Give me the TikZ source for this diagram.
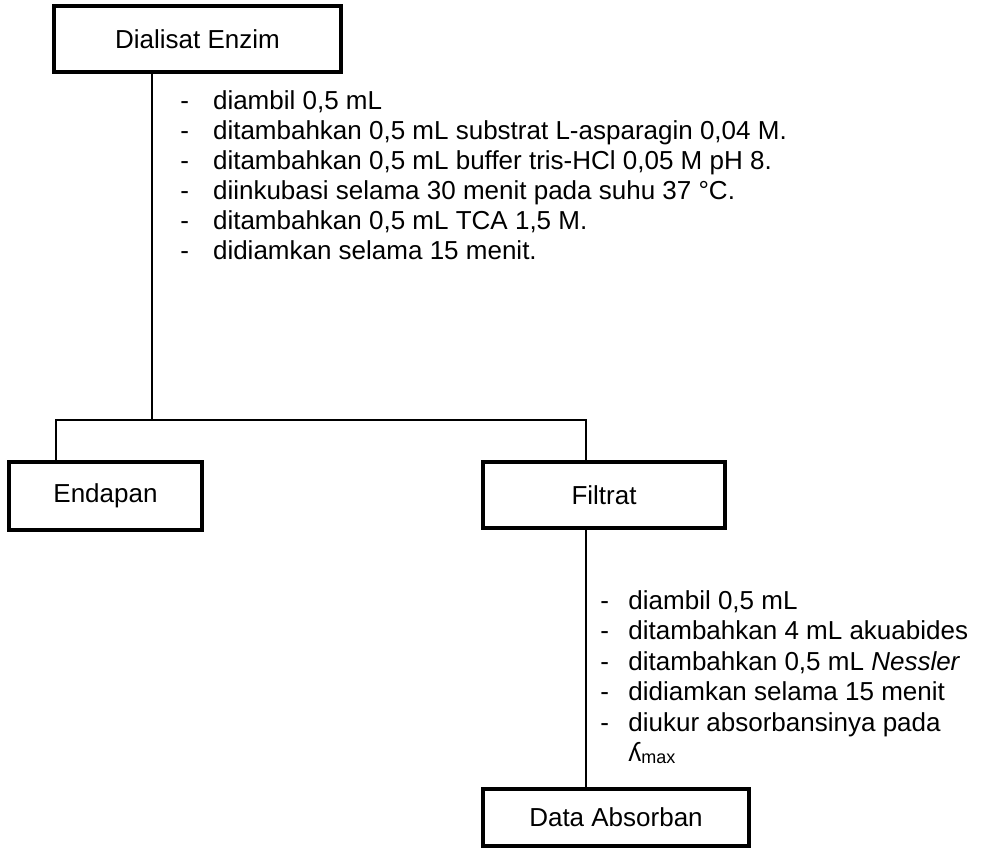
\documentclass[tikz,border=0pt]{standalone}
\usepackage{fontspec}
\setmainfont{Liberation Sans}
\tikzset{
  kotak/.style={rectangle,draw=black,line width=2.2pt,inner sep=0pt,font=\fontsize{13}{15}\selectfont},
  langkah/.style={inner sep=0pt,anchor=base west,font=\fontsize{13}{15}\selectfont},
  garis/.style={draw=black,line width=1.1pt}
}

\begin{document}
\begin{tikzpicture}[x=0.5pt,y=-0.5pt]
  \useasboundingbox (0,0) rectangle (984,848);

  \node[kotak,minimum width=143.5pt,minimum height=33pt] (dialisat) at (197.5,39) {Dialisat Enzim};
  \node[kotak,minimum width=96.5pt,minimum height=34pt] (endapan) at (105.5,496) {Endapan};
  \node[kotak,minimum width=121pt,minimum height=33pt] (filtrat) at (604,495) {Filtrat};
  \node[kotak,minimum width=133pt,minimum height=28.5pt] (absorban) at (616,817.5) {Data Absorban};

  % langkah setelah dialisat
  \node[langkah] (langkah1) at (180,109) {%
    \begin{tabular}[t]{@{}l@{\hspace{12pt}}l@{}}
      - & diambil 0,5 mL\\
      - & ditambahkan 0,5 mL substrat L-asparagin 0,04 M.\\
      - & ditambahkan 0,5 mL buffer tris-HCl 0,05 M pH 8.\\
      - & diinkubasi selama 30 menit pada suhu 37 °C.\\
      - & ditambahkan 0,5 mL TCA 1,5 M.\\
      - & didiamkan selama 15 menit.
    \end{tabular}};

  % langkah setelah filtrat
  \node[langkah,font=\fontsize{13}{15.25}\selectfont] (langkah2) at (600,609) {%
    \begin{tabular}[t]{@{}l@{\hspace{9.7pt}}l@{}}
      - & diambil 0,5 mL\\
      - & ditambahkan 4 mL akuabides\\
      - & ditambahkan 0,5 mL \textit{Nessler}\\
      - & didiamkan selama 15 menit\\
      - & diukur absorbansinya pada\\
        & ʎ\raisebox{-1pt}{\fontsize{9}{9}\selectfont max}
    \end{tabular}};

  \coordinate (cabang) at (152,420);
  \coordinate (kiri) at (56,420);
  \coordinate (kanan) at (586,420);
  \draw[garis] (dialisat.south -| cabang) -- (cabang);
  \draw[garis] (endapan.north -| kiri) -- (kiri) -- (kanan) -- (filtrat.north -| kanan);
  \draw[garis] (filtrat.south -| kanan) -- (absorban.north -| kanan);
\end{tikzpicture}
\end{document}
